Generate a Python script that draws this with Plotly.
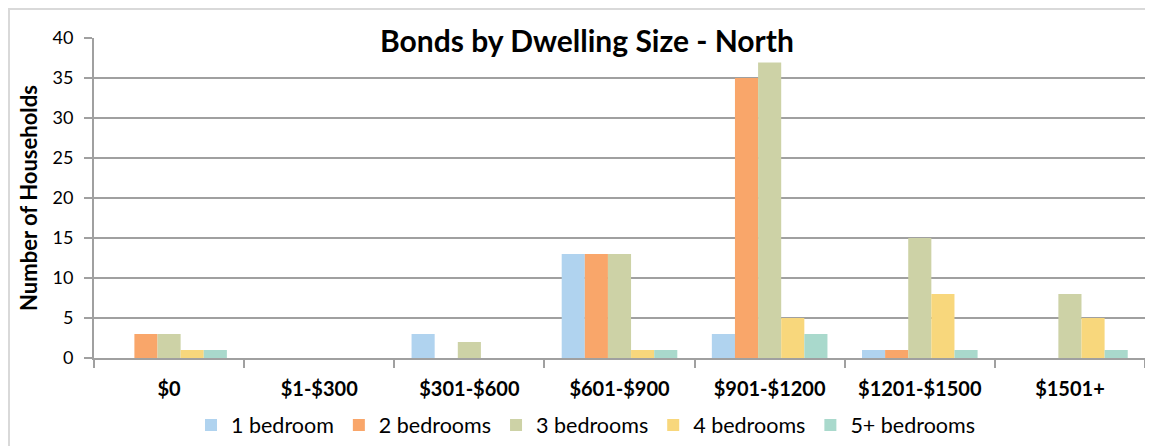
import plotly.graph_objects as go

categories = ["$0", "$1-$300", "$301-$600", "$601-$900", "$901-$1200", "$1201-$1500", "$1501+"]
series_names = ["1 bedroom", "2 bedrooms", "3 bedrooms", "4 bedrooms", "5+ bedrooms"]
one_bed = [0, 0, 3, 13, 3, 1, 0]
two_bed = [3, 0, 0, 13, 35, 1, 0]
three_bed = [3, 0, 2, 13, 37, 15, 8]
four_bed = [1, 0, 0, 1, 5, 8, 5]
five_bed = [1, 0, 0, 1, 3, 1, 1]
y_ticks = [0, 5, 10, 15, 20, 25, 30, 35, 40]

values = [one_bed, two_bed, three_bed, four_bed, five_bed]
colors = ["#b0d3ef", "#f9a66a", "#cdd2a6", "#f8d77c", "#a9d9cc"]

FONT = "Lato"

fig = go.Figure()
for name, vals, c in zip(series_names, values, colors):
    fig.add_trace(go.Bar(name=name, x=categories, y=vals,
                         marker=dict(color=c, line=dict(width=0))))

# the page body adds an 8px offset; work in page pixels
OFF = 8
W, H = 1153 - OFF, 446 - OFF
PL, PR, PT, PB = 94, 1145, 38, 358  # plot area in page pixels
L, T = PL - OFF, PT - OFF
R = W - (PR - OFF)
B = H - (PB - OFF)
pw = PR - PL
ph = PB - PT

def px_x(p):
    return (p - PL) / pw

def px_y(p):
    return (PB - p) / ph

fig.update_layout(
    width=W, height=H,
    margin=dict(l=L, r=R, t=T, b=B, autoexpand=False),
    paper_bgcolor="white", plot_bgcolor="white",
    barmode="group", bargap=0.23, bargroupgap=0,
    font=dict(family=FONT, color="#000000", size=18),
    showlegend=True,
    legend=dict(orientation="h", x=px_x(586), xanchor="center",
                y=px_y(425), yanchor="middle",
                font=dict(size=21.5, family=FONT), traceorder="normal",
                itemwidth=30, bgcolor="rgba(0,0,0,0)"),
    xaxis=dict(type="category", showline=True, linecolor="#a0a0a0", linewidth=2,
               ticks="outside", tickson="boundaries", ticklen=8, tickwidth=2,
               tickcolor="#a0a0a0", showgrid=False, automargin=False,
               tickfont=dict(size=20, family=FONT, weight="bold"),
               ticklabelstandoff=12),
    yaxis=dict(range=[0, 40], tickvals=y_ticks, showline=True, linecolor="#a0a0a0",
               linewidth=2, ticks="outside", ticklen=8, tickwidth=2, tickcolor="#a0a0a0",
               showgrid=True, gridcolor="#a0a0a0", gridwidth=2,
               zeroline=False, automargin=False,
               tickfont=dict(size=18, family=FONT),
               ticklabelstandoff=7,
               title=dict(text="Number of Households", standoff=9,
                          font=dict(size=22, family=FONT, weight="bold"))),
)

fig.add_shape(type="rect", xref="paper", yref="paper",
              x0=px_x(9), x1=px_x(1170), y0=px_y(470), y1=px_y(9),
              line=dict(color="#d9d9d9", width=2), fillcolor="rgba(0,0,0,0)", layer="below")

fig.add_annotation(text="<b>Bonds by Dwelling Size - North</b>", xref="paper", yref="paper",
                   x=px_x(587), y=px_y(40), xanchor="center", yanchor="middle",
                   showarrow=False, bgcolor="white", borderpad=4,
                   font=dict(size=30, family=FONT, color="#000000"))

fig.write_html("out.html")
